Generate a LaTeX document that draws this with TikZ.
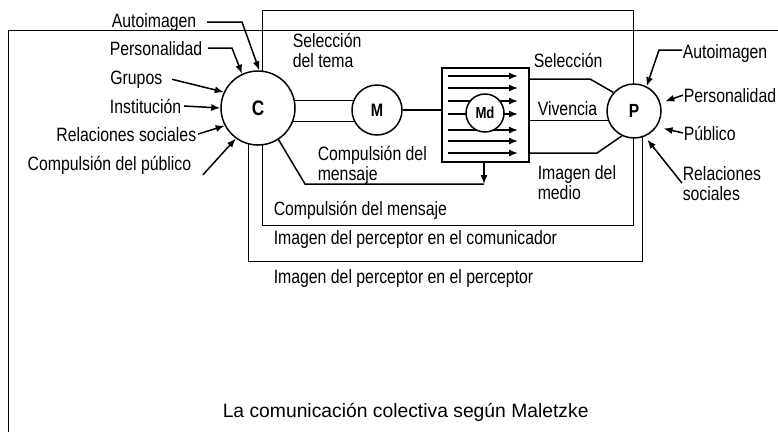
\documentclass[tikz,border=0pt]{standalone}
\usepackage{fontspec}
\setmainfont{Liberation Sans}
\newfontfamily\narrowsf{Liberation Sans}[FakeStretch=0.82]
\usetikzlibrary{arrows.meta, backgrounds}

\tikzset{
  lbl/.style={font={\narrowsf\fontsize{19.3}{20}\selectfont}, inner sep=0pt, align=left},
  actor/.style={circle, draw, fill=white, inner sep=0pt},
}

\begin{document}
\begin{tikzpicture}[x=1pt, y=-1pt, line width=1.5pt, >={Latex[length=9pt,width=7pt]}]
    \useasboundingbox (0,0) rectangle (778,432);

    % comunicador, mensaje, perceptor
    \node[actor, minimum size=74pt, font={\narrowsf\bfseries\fontsize{21}{21}\selectfont}] (C) at (258,108) {C};
    \node[actor, minimum size=50pt, font={\narrowsf\bfseries\fontsize{18}{18}\selectfont}] (M) at (377,110) {M};
    \node[actor, minimum size=54pt, font={\narrowsf\bfseries\fontsize{19}{19}\selectfont}] (P) at (634,111) {P};

    % medio
    \node[draw, minimum width=87pt, minimum height=94pt, inner sep=0pt] (box) at (485.5,115) {};
    \foreach \y in {76,88,101,114,130,141,153}
        \draw[->] (448,\y) -- (518,\y);
    \node[actor, minimum size=38pt, font={\narrowsf\bfseries\fontsize{16}{16}\selectfont}] (Md) at (485,113) {Md};

    % left side
    \node[lbl, anchor=base east] (la1) at (197,27) {Autoimagen};
    \node[lbl, anchor=base east] (la2) at (203,55) {Personalidad};
    \node[lbl, anchor=base east] (la3) at (163,84) {Grupos};
    \node[lbl, anchor=base east] (la4) at (182,113) {Institución};
    \node[lbl, anchor=base east] (la5) at (197,141) {Relaciones sociales};
    \node[lbl, anchor=base east] (la6) at (192,170) {Compulsión del público};

    \draw[->] ([xshift=10pt]la1.east) -- ++(35,0) -- (C.88);
    \draw[->] ([xshift=5pt]la2.east) -- ++(24,0) -- (C.115);
    \draw[->] ([xshift=9pt]la3.east) -- (C.155);
    \draw[->] ([xshift=2pt]la4.east) -- (C.180);
    \draw[->] ([xshift=1pt]la5.east) -- (C.208);
    \draw[->] ([xshift=11pt]la6.south east) -- (C.234);

    % right side
    \node[lbl, anchor=base west] (ra1) at (682,58) {Autoimagen};
    \node[lbl, anchor=base west] (ra2) at (683,102) {Personalidad};
    \node[lbl, anchor=base west] (ra3) at (683,140) {Público};
    \node[lbl, anchor=base west] (ra4) at (682,200) {Relaciones\\sociales};

    \draw[->] ([yshift=3pt]ra1.west) -- ++(-23,0) -- (P.63);
    \draw[->, shorten >=5pt] (ra2.west) -- (P.17);
    \draw[->, shorten >=7pt] (ra3.west) -- (P.-35);
    \draw[->, shorten >=4pt] (ra4.west) -- (P.-67);

    % texts in the boxes
    \node[lbl, anchor=base west] (tema) at (292,67) {Selección\\del tema};
    \node[lbl, anchor=base west] (cmsg) at (317,180) {Compulsión del\\mensaje};
    \node[lbl, anchor=base west] (cmsg2) at (273,215) {Compulsión del mensaje};
    \node[lbl, anchor=base west] (ipc) at (273,244) {Imagen del perceptor en el comunicador};
    \node[lbl, anchor=base west] (ipp) at (273,283) {Imagen del perceptor en el perceptor};
    \node[lbl, anchor=base west] (sel) at (533,67) {Selección};
    \node[lbl, anchor=base west] (viv) at (537,115) {Vivencia};
    \node[lbl, anchor=base west] (imed) at (537,199) {Imagen del\\medio};
    \node[inner sep=0pt, anchor=base west, font={\fontsize{19.3}{20}\selectfont}] (title) at (222,417)
        {La comunicación colectiva según Maletzke};

    % connectors
    \draw (M.east) -- (M.east -| box.west);
    \coordinate (cm) at (484,184);
    \draw (C.-57) -- (305,184) -- (cm);
    \draw[->] (box.south -| cm) -- (cm);
    \draw (box.east |- 0,79) -- (590,79) -- (P.138);
    \draw (box.east |- P.200) -- (P.200);
    \draw (box.east |- 0,153) -- (597,153) -- (P.244);

    \begin{scope}[on background layer]
        \draw (8,432) -- (8,30) -- (778,30);
        \draw (262,10) rectangle (633,225);
        \draw (248,108) -- (248,261) -- (642,261) -- (642,111);
        \draw (C.center |- 0,100) -- (M.center |- 0,100);
        \draw (C.center |- 0,121) -- (M.center |- 0,121);
    \end{scope}
\end{tikzpicture}
\end{document}
